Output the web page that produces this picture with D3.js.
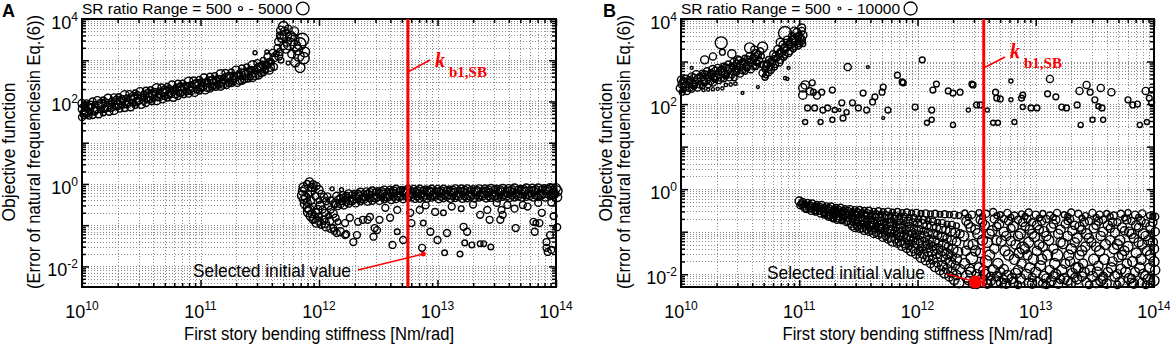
<!DOCTYPE html>
<html>
<head>
<meta charset="utf-8">
<script src="https://cdn.jsdelivr.net/npm/d3@7"></script>
<style>
body { margin: 0; background: #fff; }
svg { display: block; font-family: "Liberation Sans", Arial, sans-serif; }
</style>
</head>
<body>
<svg id="chart" width="1170" height="346"></svg>
<script>
/**
 * Two log-log scatter panels: objective function vs. first story bending stiffness
 * Points are [log10 stiffness, log10 objective, SR ratio]
 */

// Panel A - low stiffness branch (rising band)
const aBandLo = [
    [10.00,1.95,2000],[10.01,1.82,3000],[10.02,1.68,2000],[10.00,1.62,1500],
    [10.04,1.97,1000],[10.05,1.86,2000],[10.04,1.74,3000],[10.06,1.64,1000],
    [10.09,2.00,1500],[10.08,1.88,1000],[10.10,1.77,2000],[10.09,1.67,1500],
    [10.13,2.02,2000],[10.14,1.90,1500],[10.12,1.80,1000],[10.14,1.70,2000],
    [10.18,2.04,1000],[10.17,1.93,2500],[10.19,1.82,1500],[10.18,1.72,1000],
    [10.22,2.08,2000],[10.23,1.95,1000],[10.21,1.85,2000],[10.23,1.75,1500],
    [10.27,2.10,1500],[10.26,1.99,2000],[10.28,1.88,1000],[10.27,1.78,2000],
    [10.31,2.12,1000],[10.32,2.01,1500],[10.30,1.91,2500],[10.32,1.81,1000],
    [10.36,2.15,2500],[10.35,2.04,1000],[10.37,1.94,1500],[10.36,1.84,1500],
    [10.40,2.18,1500],[10.41,2.06,2000],[10.39,1.96,1000],[10.41,1.87,2000],
    [10.45,2.21,1000],[10.44,2.10,1500],[10.46,1.99,2000],[10.45,1.90,1000],
    [10.49,2.24,2000],[10.50,2.12,1000],[10.48,2.02,1500],[10.50,1.93,2000],
    [10.54,2.26,1500],[10.53,2.15,2000],[10.55,2.05,1000],[10.54,1.96,1500],
    [10.58,2.29,1000],[10.59,2.18,1500],[10.57,2.08,2500],[10.59,1.99,1000],
    [10.63,2.32,2500],[10.62,2.20,1000],[10.64,2.11,1500],[10.63,2.02,2000],
    [10.67,2.34,1500],[10.68,2.23,2000],[10.66,2.14,1000],[10.68,2.05,1500],
    [10.72,2.37,1000],[10.71,2.26,1500],[10.73,2.17,2000],[10.72,2.08,1000],
    [10.76,2.40,2000],[10.77,2.29,1000],[10.75,2.20,1500],[10.77,2.10,2000],
    [10.81,2.43,1500],[10.80,2.32,2000],[10.82,2.22,1000],[10.81,2.13,1500],
    [10.85,2.45,1000],[10.86,2.35,1500],[10.84,2.25,2500],[10.86,2.16,1000],
    [10.90,2.48,2500],[10.89,2.38,1000],[10.91,2.28,1500],[10.90,2.19,1500],
    [10.94,2.51,1500],[10.95,2.41,2000],[10.93,2.31,1000],[10.95,2.22,2000],
    [10.99,2.54,1000],[10.98,2.44,1500],[11.00,2.34,2000],[10.99,2.25,1000],
    [11.03,2.57,2000],[11.04,2.47,1000],[11.02,2.37,1500],[11.04,2.28,2000],
    [11.08,2.60,1500],[11.07,2.50,2000],[11.09,2.40,1000],[11.08,2.31,1500],
    [11.12,2.63,1000],[11.13,2.53,1500],[11.11,2.43,2500],[11.13,2.34,1000],
    [11.17,2.66,2500],[11.16,2.56,1000],[11.18,2.46,1500],[11.17,2.37,2000],
    [11.21,2.69,1500],[11.22,2.59,2000],[11.20,2.49,1000],[11.22,2.40,1500],
    [11.26,2.72,1000],[11.25,2.62,1500],[11.27,2.52,2000],[11.26,2.43,1000],
    [11.30,2.76,2000],[11.31,2.65,1000],[11.29,2.56,1500],[11.31,2.46,2000],
    [11.35,2.80,1500],[11.34,2.69,2000],[11.36,2.60,1000],[11.35,2.50,1500],
    [11.39,2.84,1000],[11.40,2.73,1500],[11.38,2.64,2500],[11.40,2.54,1000],
    [11.44,2.88,2500],[11.43,2.78,1000],[11.45,2.68,1500],[11.44,2.58,2000],
    [11.48,2.93,1500],[11.49,2.83,2000],[11.47,2.73,1000],[11.49,2.63,1500],
    [11.53,3.00,1000],[11.52,2.89,1500],[11.54,2.79,2000],[11.53,2.69,1000],
    [11.57,3.08,2000],[11.58,2.97,1000],[11.56,2.87,1500],[11.58,2.76,2000],
    [11.61,3.18,1500],[11.62,3.06,2000],[11.60,2.95,1000],[11.62,2.84,1500],
    [10.02,1.88,1500],[10.02,1.73,2000],[10.07,1.91,2000],[10.07,1.76,1000],
    [10.11,1.93,1000],[10.11,1.78,2000],[10.16,1.96,2000],[10.16,1.81,1500],
    [10.20,1.98,1500],[10.20,1.83,1000],[10.25,2.01,1000],[10.25,1.86,2000],
    [10.29,2.03,2000],[10.29,1.88,1500],[10.34,2.06,1500],[10.34,1.91,1000],
    [10.38,2.09,1000],[10.38,1.94,2000],[10.43,2.12,2000],[10.43,1.97,1500],
    [10.47,2.15,1500],[10.47,2.00,1000],[10.52,2.18,1000],[10.52,2.03,2000],
    [10.56,2.20,2000],[10.56,2.05,1500],[10.61,2.23,1500],[10.61,2.08,1000],
    [10.65,2.26,1000],[10.65,2.11,2000],[10.70,2.28,2000],[10.70,2.13,1500],
    [10.74,2.30,1500],[10.74,2.15,1000],[10.79,2.33,1000],[10.79,2.18,2000],
    [10.83,2.35,2000],[10.83,2.20,1500],[10.88,2.38,1500],[10.88,2.23,1000],
    [10.92,2.41,1000],[10.92,2.26,2000],[10.97,2.44,2000],[10.97,2.29,1500],
    [11.01,2.46,1500],[11.01,2.31,1000],[11.06,2.49,1000],[11.06,2.34,2000],
    [11.10,2.51,2000],[11.10,2.36,1500],[11.15,2.54,1500],[11.15,2.39,1000],
    [11.19,2.57,1000],[11.19,2.42,2000],[11.24,2.60,2000],[11.24,2.45,1500],
    [11.28,2.62,1500],[11.28,2.47,1000],[11.33,2.66,1000],[11.33,2.51,2000],
    [11.37,2.69,2000],[11.37,2.54,1500],[11.42,2.74,1500],[11.42,2.59,1000],
    [11.46,2.78,1000],[11.46,2.63,2000],[11.51,2.84,2000],[11.51,2.69,1500],
    [11.55,2.90,1500],[11.55,2.75,1000],[11.59,2.98,1000],[11.59,2.83,2000]
];

// Panel A - peak cluster near 5e11
const aPeak = [
    [11.65,3.30,1500],[11.66,3.45,2000],[11.67,3.60,1500],[11.68,3.72,2500],
    [11.70,3.82,3000],[11.71,3.70,2000],[11.69,3.55,3000],[11.72,3.60,4000],
    [11.73,3.45,2500],[11.70,3.35,2000],[11.67,3.20,1500],[11.66,3.10,2000],
    [11.64,3.15,1000],[11.72,3.30,3500],[11.75,3.40,4500],[11.76,3.58,3000],
    [11.78,3.50,4500],[11.80,3.35,3500],[11.82,3.25,3000],[11.84,3.40,4500],
    [11.86,3.50,5000],[11.83,3.10,3500],[11.87,3.05,4000],[11.80,2.95,2500],
    [11.84,2.82,3000],[11.74,2.93,500],[11.77,3.15,2000],[11.68,3.00,1000],
    [11.88,3.20,3000],[11.79,3.70,2500],[11.74,3.75,2000],
    [11.46,3.18,500],[11.56,3.20,500]
];

// Panel A - hook after the jump
const aHook = [
    [11.92,0.05,2000],[11.90,0.00,1500],[11.95,-0.02,2000],[11.87,-0.08,2500],
    [11.86,-0.18,2000],[11.86,-0.28,3000],[11.87,-0.38,2000],[11.88,-0.48,2500],
    [11.90,-0.58,2000],[11.91,-0.68,3000],[11.93,-0.78,2500],[11.95,-0.86,2000],
    [11.98,-0.93,3000],[12.02,-0.98,2000],[12.06,-1.03,2500],[12.10,-1.08,2000],
    [12.13,-1.14,1500],[12.18,-1.16,2000],[12.23,-1.22,1500],[11.98,-0.05,1500],
    [12.00,-0.14,2000],[12.02,-0.24,1500],[12.04,-0.33,2000],[12.06,-0.42,1500],
    [12.08,-0.52,2000],[12.10,-0.62,1500],[12.12,-0.72,2000],[12.14,-0.82,1500],
    [12.16,-0.92,1000],[11.91,-0.25,1500],[11.93,-0.40,2000],[11.95,-0.55,1500],
    [11.97,-0.70,2000],[12.00,-0.80,1500],[12.04,-0.88,2000],[11.96,-0.12,1000],
    [12.00,-0.40,1000],[12.03,-0.62,1500],[12.08,-0.78,1000],
    [12.11,-0.12,500],[12.19,-0.14,500],
    [11.88,-0.13,2000],[11.89,-0.33,2500],[11.90,-0.45,2000],[11.92,-0.62,2500],
    [11.94,-0.72,2000],[11.96,-0.82,2500],[12.00,-0.90,2000],[12.05,-0.95,2500],
    [11.94,-0.08,2000],[11.97,-0.30,1500],[12.01,-0.52,2000],[12.05,-0.70,1500],
    [12.09,-0.90,2000],[11.93,-0.18,2500],[11.99,-0.62,2000],[12.07,-0.30,1500],
    [12.10,-0.40,1500],[12.13,-0.50,1500]
];

// Panel A - high stiffness branch (flat band)
const aBandHi = [
    [12.15,-0.30,2000],[12.16,-0.38,1500],[12.14,-0.46,2000],[12.16,-0.54,1500],
    [12.20,-0.27,1500],[12.21,-0.35,2000],[12.19,-0.43,1000],[12.21,-0.51,2000],
    [12.25,-0.24,2000],[12.24,-0.32,1000],[12.26,-0.40,2000],[12.25,-0.48,1500],
    [12.30,-0.22,1000],[12.31,-0.30,2000],[12.29,-0.38,1500],[12.31,-0.46,2000],
    [12.35,-0.20,2000],[12.34,-0.28,1500],[12.36,-0.36,2000],[12.35,-0.44,1000],
    [12.40,-0.18,1500],[12.41,-0.26,2000],[12.39,-0.34,1000],[12.41,-0.42,2000],
    [12.45,-0.17,2000],[12.44,-0.25,1000],[12.46,-0.33,2000],[12.45,-0.41,1500],
    [12.50,-0.16,1000],[12.51,-0.24,2000],[12.49,-0.32,1500],[12.51,-0.40,2000],
    [12.55,-0.15,2000],[12.54,-0.23,1500],[12.56,-0.31,2000],[12.55,-0.39,1000],
    [12.60,-0.14,1500],[12.61,-0.22,2000],[12.59,-0.30,1000],[12.61,-0.38,2000],
    [12.65,-0.13,2000],[12.64,-0.21,1000],[12.66,-0.29,2000],[12.65,-0.37,1500],
    [12.70,-0.13,1000],[12.71,-0.21,2000],[12.69,-0.29,1500],[12.71,-0.36,2000],
    [12.75,-0.13,2000],[12.74,-0.20,1500],[12.76,-0.28,2000],[12.75,-0.36,1000],
    [12.80,-0.12,1500],[12.81,-0.20,2000],[12.79,-0.28,1000],[12.81,-0.35,2000],
    [12.85,-0.13,2000],[12.84,-0.21,1000],[12.86,-0.27,2000],[12.85,-0.36,1500],
    [12.90,-0.12,1000],[12.91,-0.20,2000],[12.89,-0.28,1500],[12.91,-0.35,2000],
    [12.95,-0.13,2000],[12.94,-0.19,1500],[12.96,-0.27,2000],[12.95,-0.35,1000],
    [13.00,-0.12,1500],[13.01,-0.20,2000],[12.99,-0.28,1000],[13.01,-0.36,2000],
    [13.05,-0.13,2000],[13.04,-0.20,1000],[13.06,-0.27,2000],[13.05,-0.35,1500],
    [13.10,-0.12,1000],[13.11,-0.19,2000],[13.09,-0.27,1500],[13.11,-0.35,2000],
    [13.15,-0.12,2000],[13.14,-0.20,1500],[13.16,-0.28,2000],[13.15,-0.36,1000],
    [13.20,-0.11,1500],[13.21,-0.19,2000],[13.19,-0.27,1000],[13.21,-0.35,2000],
    [13.25,-0.12,2000],[13.24,-0.19,1000],[13.26,-0.28,2000],[13.25,-0.35,1500],
    [13.30,-0.11,1000],[13.31,-0.19,2000],[13.29,-0.27,1500],[13.31,-0.34,2000],
    [13.35,-0.12,2000],[13.34,-0.18,1500],[13.36,-0.27,2000],[13.35,-0.35,1000],
    [13.40,-0.11,1500],[13.41,-0.19,2000],[13.39,-0.27,1000],[13.41,-0.34,2000],
    [13.45,-0.11,2000],[13.44,-0.18,1000],[13.46,-0.26,2000],[13.45,-0.34,1500],
    [13.50,-0.10,1000],[13.51,-0.18,2000],[13.49,-0.26,1500],[13.51,-0.34,2000],
    [13.55,-0.11,2000],[13.54,-0.18,1500],[13.56,-0.26,2000],[13.55,-0.33,1000],
    [13.60,-0.10,1500],[13.61,-0.18,2000],[13.59,-0.26,1000],[13.61,-0.33,2000],
    [13.65,-0.10,2000],[13.64,-0.17,1000],[13.66,-0.25,2000],[13.65,-0.33,1500],
    [13.70,-0.10,1000],[13.71,-0.17,2000],[13.69,-0.25,1500],[13.71,-0.32,2000],
    [13.75,-0.10,2000],[13.74,-0.17,1500],[13.76,-0.25,2000],[13.75,-0.33,1000],
    [13.80,-0.09,1500],[13.81,-0.17,2000],[13.79,-0.25,1000],[13.81,-0.32,2000],
    [13.85,-0.10,2000],[13.84,-0.17,1000],[13.86,-0.25,2000],[13.85,-0.32,1500],
    [13.90,-0.09,1000],[13.91,-0.16,2000],[13.89,-0.24,1500],[13.91,-0.32,2000],
    [13.95,-0.09,2000],[13.94,-0.16,1500],[13.96,-0.24,2000],[13.95,-0.31,1000],
    [14.00,-0.10,2500],[14.01,-0.17,3000],[13.99,-0.24,2000],[14.01,-0.32,2500],
    [12.18,-0.34,1500],[12.18,-0.48,2000],[12.23,-0.30,2000],[12.23,-0.44,1500],
    [12.28,-0.27,1500],[12.28,-0.41,2000],[12.33,-0.25,2000],[12.33,-0.39,1000],
    [12.38,-0.23,1000],[12.38,-0.37,2000],[12.43,-0.21,2000],[12.43,-0.35,1500],
    [12.48,-0.20,1500],[12.48,-0.34,2000],[12.53,-0.19,2000],[12.53,-0.33,1000],
    [12.58,-0.18,1000],[12.58,-0.32,2000],[12.63,-0.17,2000],[12.63,-0.31,1500],
    [12.68,-0.17,1500],[12.68,-0.31,2000],[12.73,-0.17,2000],[12.73,-0.31,1000],
    [12.78,-0.16,1000],[12.78,-0.31,2000],[12.83,-0.17,2000],[12.83,-0.30,1500],
    [12.88,-0.16,1500],[12.88,-0.31,2000],[12.93,-0.17,2000],[12.93,-0.31,1000],
    [12.98,-0.16,1000],[12.98,-0.30,2000],[13.03,-0.17,2000],[13.03,-0.31,1500],
    [13.08,-0.16,1500],[13.08,-0.30,2000],[13.13,-0.16,2000],[13.13,-0.31,1000],
    [13.18,-0.15,1000],[13.18,-0.30,2000],[13.23,-0.16,2000],[13.23,-0.30,1500],
    [13.28,-0.15,1500],[13.28,-0.30,2000],[13.33,-0.16,2000],[13.33,-0.30,1000],
    [13.38,-0.15,1000],[13.38,-0.29,2000],[13.43,-0.15,2000],[13.43,-0.30,1500],
    [13.48,-0.14,1500],[13.48,-0.29,2000],[13.53,-0.15,2000],[13.53,-0.29,1000],
    [13.58,-0.14,1000],[13.58,-0.29,2000],[13.63,-0.14,2000],[13.63,-0.28,1500],
    [13.68,-0.14,1500],[13.68,-0.29,2000],[13.73,-0.14,2000],[13.73,-0.28,1000],
    [13.78,-0.13,1000],[13.78,-0.28,2000],[13.83,-0.14,2000],[13.83,-0.28,1500],
    [13.88,-0.13,1500],[13.88,-0.27,2000],[13.93,-0.13,2000],[13.93,-0.27,1000],
    [13.98,-0.13,1500],[13.98,-0.27,2000]
];

// Panel A - loose points under the flat band
const aLoose = [
    [12.29,-1.41,1500],[12.46,-1.28,1500],[12.41,-0.87,1500],[12.51,-0.87,1500],
    [12.60,-0.82,1500],[12.47,-1.07,1500],[12.62,-1.48,1500],[12.66,-1.16,1000],
    [12.71,-1.36,1500],[12.78,-0.95,1500],[12.87,-1.55,1500],[12.88,-0.95,1000],
    [12.94,-1.16,1500],[13.00,-1.36,1500],[13.06,-1.67,1000],[13.08,-1.19,1500],
    [13.19,-1.70,1000],[13.22,-1.04,1500],[13.23,-1.43,1000],[13.25,-1.16,1500],
    [13.29,-1.48,1000],[13.36,-0.75,1500],[13.36,-1.45,1000],[13.39,-1.45,1000],
    [13.44,-0.87,1500],[13.45,-1.53,1000],[13.53,-0.87,1500],[13.55,-0.75,1500],
    [13.66,-1.07,1500],[13.81,-0.92,1500],[13.82,-1.16,1500],[13.83,-0.95,1000],
    [13.86,-0.95,1500],[13.92,-1.41,1500],[13.92,-1.55,1500],[13.93,-1.65,1500],
    [13.96,-1.60,1500],[13.95,-1.24,1500],
    [12.33,-0.92,1500],[12.43,-0.80,1500],[12.26,-0.82,1500],[12.66,-0.63,1500],
    [12.77,-0.70,1500],[12.85,-0.63,1500],[12.98,-0.68,1500],[13.05,-0.70,1000],
    [13.42,-0.63,1500],[13.50,-0.46,1500],[13.54,-0.63,1500],[13.59,-0.51,1500],
    [13.72,-0.51,1500],[13.85,-0.46,1500],[12.22,-0.95,1500],[12.37,-0.87,1500],
    [12.49,-1.12,1500],[12.32,-1.24,1500],[12.12,-1.07,1500],[12.15,-1.19,1500],
    [12.22,-1.24,1500],[12.90,-0.52,1500],[13.12,-0.55,1500],[13.20,-0.60,1000],
    [13.30,-0.50,1500],[13.65,-0.60,1500],[13.76,-0.55,1500],[13.96,-0.45,1500],
    [13.98,-0.78,1500],[14.01,-1.05,1500],[13.88,-0.70,1500],[12.56,-0.58,1500]
];

// Panel B - low stiffness branch (two rising groups)
const bBandLo = [
    [10.00,2.57,3000],[10.01,2.47,4000],[9.99,2.37,3000],[10.01,2.28,2000],
    [10.04,2.61,2000],[10.05,2.51,3000],[10.03,2.41,4000],[10.05,2.31,3000],
    [10.09,2.65,3000],[10.08,2.55,2000],[10.10,2.45,3000],[10.09,2.35,2000],
    [10.13,2.69,4000],[10.14,2.59,3000],[10.12,2.49,2000],[10.14,2.39,3000],
    [10.18,2.73,2000],[10.17,2.63,4000],[10.19,2.53,3000],[10.18,2.43,2000],
    [10.22,2.77,3000],[10.23,2.67,2000],[10.21,2.57,4000],[10.23,2.47,3000],
    [10.27,2.81,4000],[10.26,2.71,3000],[10.28,2.61,2000],[10.27,2.51,3000],
    [10.31,2.85,3000],[10.32,2.75,2000],[10.30,2.65,3000],[10.32,2.55,2000],
    [10.36,2.89,2000],[10.35,2.79,4000],[10.37,2.69,3000],[10.36,2.59,2000],
    [10.40,2.93,3000],[10.41,2.83,3000],[10.39,2.73,2000],[10.41,2.63,3000],
    [10.45,2.98,4000],[10.44,2.87,2000],[10.46,2.77,3000],[10.45,2.62,2000],
    [10.49,3.03,3000],[10.50,2.92,3000],[10.48,2.82,2000],[10.50,2.72,3000],
    [10.54,3.08,2000],[10.53,2.97,4000],[10.55,2.87,3000],[10.54,2.77,2000],
    [10.58,3.13,3000],[10.59,3.02,2000],[10.57,2.92,3000],[10.59,2.82,3000],
    [10.63,3.18,4000],[10.62,3.08,3000],[10.64,2.98,2000],[10.63,2.88,2000],
    [10.67,3.24,3000],[10.68,3.13,2000],[10.66,3.03,3000],[10.68,2.93,2000],
    [10.34,3.44,8500],[10.20,3.04,3800],[10.58,3.32,6000],[10.69,3.34,6000],
    [10.48,3.04,3800],[10.35,3.22,2000],[10.27,3.12,3000],[10.43,3.18,4000],
    [10.62,3.28,3000],
    [10.70,2.93,3000],[10.71,2.83,2000],[10.69,2.73,3000],[10.71,2.63,2000],
    [10.74,3.05,2000],[10.73,2.95,3000],[10.75,2.85,2000],[10.74,2.75,3000],
    [10.78,3.17,3000],[10.79,3.07,2000],[10.77,2.97,3000],[10.79,2.87,2000],
    [10.82,3.28,4000],[10.83,3.18,3000],[10.81,3.08,2000],[10.83,2.98,3000],
    [10.86,3.40,3000],[10.87,3.30,4000],[10.85,3.20,3000],[10.87,3.10,2000],
    [10.90,3.50,4000],[10.91,3.40,3000],[10.89,3.30,2000],[10.91,3.20,3000],
    [10.94,3.60,3000],[10.95,3.50,4000],[10.93,3.40,3000],[10.95,3.30,2000],
    [10.98,3.68,4000],[10.99,3.58,3000],[10.97,3.48,4000],[10.99,3.38,3000],
    [11.02,3.72,3000],[11.03,3.62,4000],[11.01,3.52,3000],[11.03,3.42,2000],
    [10.88,3.67,10000],[11.02,3.79,3800],[11.01,3.51,6000],[10.84,3.45,4000],
    [10.96,3.70,5000],
    [10.02,2.54,3000],[10.02,2.34,2000],[10.07,2.58,2000],[10.07,2.38,3000],
    [10.11,2.62,3000],[10.11,2.42,2000],[10.16,2.66,2000],[10.16,2.46,3000],
    [10.20,2.70,3000],[10.20,2.50,2000],[10.25,2.74,2000],[10.25,2.54,3000],
    [10.29,2.78,3000],[10.29,2.58,2000],[10.34,2.82,2000],[10.34,2.62,3000],
    [10.38,2.86,3000],[10.38,2.66,2000],[10.43,2.90,2000],[10.43,2.70,3000],
    [10.47,2.95,3000],[10.47,2.75,2000],[10.52,3.00,2000],[10.52,2.80,3000],
    [10.56,3.05,3000],[10.56,2.85,2000],[10.61,3.10,2000],[10.61,2.90,3000],
    [10.65,3.16,3000],[10.65,2.96,2000],
    [10.72,2.89,3000],[10.72,2.69,2000],[10.76,3.01,2000],[10.76,2.81,3000],
    [10.80,3.13,3000],[10.80,2.93,2000],[10.84,3.24,2000],[10.84,3.04,3000],
    [10.88,3.35,3000],[10.88,3.15,2000],[10.92,3.45,2000],[10.92,3.25,3000],
    [10.96,3.55,3000],[10.96,3.35,2000],[11.00,3.63,2000],[11.00,3.43,3000],
    [10.19,2.33,600],[10.23,2.34,600],[10.27,2.35,600],[10.31,2.36,600],
    [10.35,2.37,600],[10.38,2.45,700],[10.42,2.46,700],[10.46,2.48,700],
    [10.52,2.26,500],[10.65,2.40,500],[10.90,2.59,500],[10.09,2.85,500],
    [10.88,2.61,600],[10.91,2.85,500]
];

// Panel B - scattered points around 1e2
const bMid = [
    [11.03,2.38,4000],[11.05,2.45,4000],[11.11,2.50,2000],[11.03,2.21,4000],
    [11.12,2.28,2000],[11.19,2.28,2000],[11.28,2.33,2000],[11.07,1.91,2000],
    [11.13,1.91,2000],[11.20,1.86,2000],[11.24,1.91,2000],[11.30,1.86,1500],
    [11.36,2.03,2000],[11.40,1.81,1500],[11.45,2.03,2000],[11.50,1.91,2000],
    [11.54,2.26,2000],[11.57,1.86,2000],[11.62,2.05,2000],[11.64,2.17,2000],
    [11.71,2.40,2000],[11.70,2.28,2000],[11.75,1.86,2000],[11.83,2.68,2000],
    [11.87,2.52,2000],[11.98,1.93,2000],[12.04,3.04,2000],[11.41,2.87,3000],
    [11.58,2.87,500],[11.05,1.58,1500],[11.18,1.58,1500],[11.28,1.63,1500],
    [11.37,1.67,2000],[11.71,1.67,500],[12.13,2.33,2000],[12.12,1.86,2000],
    [12.47,2.45,2000],[12.50,1.98,2000],[12.53,1.98,2000],[12.66,2.28,2000],
    [12.67,2.14,2000],[12.70,2.12,2000],[12.79,2.54,1000],[12.79,2.10,1000],
    [12.88,2.14,2000],[12.89,2.21,2000],[12.89,1.93,1500],[12.96,1.91,2000],
    [13.01,1.91,2000],[13.10,2.24,2000],[13.12,2.59,3000],[13.17,2.17,2000],
    [13.22,1.93,2000],[13.26,1.91,2000],[13.35,1.98,2000],[13.37,2.31,3000],
    [13.43,2.45,3000],[13.46,2.28,2000],[13.50,2.10,2000],[13.53,1.95,1500],
    [13.55,2.38,3000],[13.56,1.91,2000],[13.64,2.28,3000],[13.78,2.10,2000],
    [13.82,1.98,2000],[13.86,2.00,2000],[13.93,2.31,3000],[13.96,2.14,2000],
    [13.98,2.03,2000],[13.98,2.33,2000],[12.59,1.86,1000],[12.43,1.86,1000],
    [11.88,2.50,2000],[12.16,2.47,2000],[12.26,2.31,2000],[12.30,2.26,2000],
    [12.36,2.28,2000],[12.46,2.47,2000],[12.08,1.56,1500],[12.12,1.63,1500],
    [12.30,1.51,1500],[12.64,1.56,1500],[12.68,1.56,1500],[12.82,1.58,1500],
    [13.38,1.51,1500],[13.48,1.63,1500],[13.57,1.63,1500],[13.88,1.51,1500],
    [13.94,1.58,1500],[11.34,1.86,500],[11.09,2.30,3000],[11.15,2.20,3000]
];

// Panel B - diagonal part of the high stiffness branch
const bDiag = [
    [11.00,-0.28,4000],[11.01,-0.38,3000],[11.03,-0.30,3000],[11.04,-0.40,4000],
    [11.07,-0.31,2000],[11.08,-0.41,3000],[11.06,-0.48,2000],
    [11.11,-0.34,3000],[11.12,-0.43,2000],[11.10,-0.51,3000],
    [11.15,-0.36,2000],[11.16,-0.45,3000],[11.14,-0.54,2000],
    [11.19,-0.37,3000],[11.20,-0.47,2000],[11.18,-0.57,3000],
    [11.23,-0.39,2000],[11.24,-0.49,3000],[11.22,-0.58,2000],[11.24,-0.63,2000],
    [11.27,-0.41,3000],[11.28,-0.51,2000],[11.26,-0.60,3000],[11.28,-0.68,2000],
    [11.31,-0.43,2000],[11.32,-0.53,3000],[11.30,-0.63,2000],[11.32,-0.72,3000],
    [11.35,-0.44,3000],[11.36,-0.54,2000],[11.34,-0.64,3000],[11.36,-0.74,2000],
    [11.39,-0.46,2000],[11.40,-0.56,3000],[11.38,-0.66,2000],[11.40,-0.77,3000],
    [11.43,-0.47,3000],[11.44,-0.57,2000],[11.42,-0.68,3000],[11.44,-0.80,4000],
    [11.47,-0.48,2000],[11.48,-0.59,3000],[11.46,-0.70,2000],[11.48,-0.82,3000],[11.47,-0.90,4000],
    [11.51,-0.49,3000],[11.52,-0.60,2000],[11.50,-0.72,3000],[11.52,-0.84,4000],[11.51,-0.93,3000],
    [11.55,-0.50,2000],[11.56,-0.62,3000],[11.54,-0.74,4000],[11.56,-0.86,3000],[11.55,-0.97,4000],
    [11.59,-0.51,3000],[11.60,-0.63,2000],[11.58,-0.76,3000],[11.60,-0.89,4000],[11.59,-1.00,3000],
    [11.63,-0.52,2000],[11.64,-0.65,3000],[11.62,-0.78,4000],[11.64,-0.92,3000],[11.63,-1.04,4000],
    [11.67,-0.52,3000],[11.68,-0.66,4000],[11.66,-0.80,3000],[11.68,-0.94,4000],[11.67,-1.08,3000],
    [11.71,-0.53,2000],[11.72,-0.68,3000],[11.70,-0.82,4000],[11.72,-0.97,3000],[11.71,-1.12,5000],
    [11.75,-0.53,3000],[11.76,-0.69,4000],[11.74,-0.85,3000],[11.76,-1.00,5000],[11.75,-1.17,4000],
    [11.79,-0.54,2000],[11.80,-0.70,3000],[11.78,-0.87,4000],[11.80,-1.04,3000],[11.79,-1.22,6000],
    [11.83,-0.54,3000],[11.84,-0.72,4000],[11.82,-0.90,3000],[11.84,-1.08,5000],[11.83,-1.27,4000],
    [11.87,-0.55,2000],[11.88,-0.74,3000],[11.86,-0.93,5000],[11.88,-1.12,4000],[11.87,-1.32,6000],
    [11.91,-0.55,3000],[11.92,-0.76,4000],[11.90,-0.96,3000],[11.92,-1.17,6000],[11.91,-1.38,5000],
    [11.95,-0.56,2000],[11.96,-0.78,3000],[11.94,-1.00,5000],[11.96,-1.22,4000],[11.95,-1.45,6000],
    [11.99,-0.56,3000],[12.00,-0.80,4000],[11.98,-1.04,3000],[12.00,-1.28,6000],[11.99,-1.52,5000],
    [12.03,-0.57,2000],[12.04,-0.82,5000],[12.02,-1.08,4000],[12.04,-1.34,5000],[12.03,-1.60,6000],
    [12.07,-0.57,3000],[12.08,-0.85,4000],[12.06,-1.12,6000],[12.08,-1.40,4000],[12.07,-1.67,5000],
    [12.11,-0.58,2000],[12.12,-0.88,5000],[12.10,-1.18,4000],[12.12,-1.46,6000],[12.11,-1.75,4000],
    [12.15,-0.58,3000],[12.16,-0.90,4000],[12.14,-1.22,6000],[12.16,-1.52,5000],[12.15,-1.82,6000],
    [12.19,-0.59,2000],[12.20,-0.93,5000],[12.18,-1.26,4000],[12.20,-1.58,6000],[12.19,-1.90,5000],
    [12.23,-0.59,3000],[12.24,-0.96,4000],[12.22,-1.30,6000],[12.24,-1.64,5000],[12.23,-1.97,6000],
    [12.27,-0.60,2000],[12.28,-0.99,6000],[12.26,-1.36,4000],[12.28,-1.72,6000],[12.27,-2.05,5000],
    [12.31,-0.60,3000],[12.32,-1.02,5000],[12.30,-1.42,6000],[12.32,-1.80,4000],[12.31,-2.12,6000],
    [12.35,-0.62,2000],[12.36,-1.05,4000],[12.34,-1.48,6000],[12.36,-1.88,5000],[12.35,-2.20,6000],
    [11.02,-0.34,3000],[11.05,-0.36,2000],[11.05,-0.45,3000],
    [11.09,-0.38,3000],[11.09,-0.47,2000],[11.13,-0.40,2000],[11.13,-0.49,3000],
    [11.17,-0.41,3000],[11.17,-0.52,2000],
    [11.21,-0.43,2000],[11.21,-0.54,3000],[11.21,-0.61,2000],
    [11.25,-0.45,3000],[11.25,-0.56,2000],[11.25,-0.65,3000],
    [11.29,-0.47,2000],[11.29,-0.58,3000],[11.29,-0.70,2000],
    [11.33,-0.48,3000],[11.33,-0.59,2000],[11.33,-0.69,3000],
    [11.37,-0.50,2000],[11.37,-0.60,3000],[11.37,-0.72,2000],
    [11.41,-0.51,3000],[11.41,-0.62,2000],[11.41,-0.75,3000],
    [11.45,-0.53,2000],[11.45,-0.64,3000],[11.45,-0.76,2000],[11.45,-0.86,4000],
    [11.49,-0.54,3000],[11.49,-0.66,2000],[11.49,-0.78,3000],[11.49,-0.88,3000],
    [11.53,-0.55,2000],[11.53,-0.67,3000],[11.53,-0.80,2000],[11.53,-0.91,4000],
    [11.57,-0.56,3000],[11.57,-0.70,2000],[11.57,-0.83,3000],[11.57,-0.95,3000],
    [11.61,-0.58,2000],[11.61,-0.72,3000],[11.61,-0.85,4000],[11.61,-0.98,3000],
    [11.65,-0.59,3000],[11.65,-0.73,2000],[11.65,-0.87,3000],[11.65,-1.01,4000],
    [11.69,-0.60,2000],[11.69,-0.75,3000],[11.69,-0.90,4000],[11.69,-1.04,3000],
    [11.73,-0.61,3000],[11.73,-0.77,2000],[11.73,-0.92,3000],[11.73,-1.09,4000],
    [11.77,-0.62,2000],[11.77,-0.79,3000],[11.77,-0.95,4000],[11.77,-1.12,5000],
    [11.81,-0.63,3000],[11.81,-0.81,2000],[11.81,-0.99,4000],[11.81,-1.17,4000],
    [11.85,-0.64,2000],[11.85,-0.83,3000],[11.85,-1.02,4000],[11.85,-1.22,5000],
    [11.89,-0.65,3000],[11.89,-0.85,3000],[11.89,-1.06,4000],[11.89,-1.27,5000],
    [11.93,-0.66,2000],[11.93,-0.88,4000],[11.93,-1.10,5000],[11.93,-1.32,4000],
    [11.97,-0.68,3000],[11.97,-0.92,3000],[11.97,-1.14,4000],[11.97,-1.38,6000],
    [12.01,-0.70,2000],[12.01,-0.95,4000],[12.01,-1.20,5000],[12.01,-1.45,4000],
    [12.05,-0.72,3000],[12.05,-0.98,3000],[12.05,-1.25,6000],[12.05,-1.52,5000],
    [12.09,-0.74,2000],[12.09,-1.02,4000],[12.09,-1.30,5000],[12.09,-1.58,6000],
    [12.13,-0.76,3000],[12.13,-1.05,5000],[12.13,-1.35,4000],[12.13,-1.65,5000],
    [12.17,-0.78,2000],[12.17,-1.08,4000],[12.17,-1.40,6000],[12.17,-1.72,5000],
    [12.21,-0.80,3000],[12.21,-1.12,5000],[12.21,-1.46,5000],[12.21,-1.80,6000],
    [12.25,-0.82,2000],[12.25,-1.16,4000],[12.25,-1.52,6000],[12.25,-1.88,5000],
    [12.29,-0.84,3000],[12.29,-1.20,5000],[12.29,-1.58,5000],[12.29,-1.95,6000],
    [12.33,-0.86,2000],[12.33,-1.24,4000],[12.33,-1.65,6000],[12.33,-2.02,5000]
];

// Panel B - wide field of the high stiffness branch
const bField = [
    [12.40,-0.56,2000],[12.41,-0.75,4000],[12.39,-1.10,6000],[12.41,-1.45,5000],[12.40,-1.75,6000],[12.42,-2.05,8000],
    [12.46,-0.60,3000],[12.45,-0.90,5000],[12.47,-1.30,6000],[12.46,-1.62,8000],[12.45,-1.95,6000],[12.47,-2.22,5000],
    [12.52,-0.55,2000],[12.53,-0.72,4000],[12.51,-1.05,6000],[12.53,-1.50,5000],[12.52,-1.85,6000],[12.54,-2.15,8000],
    [12.58,-0.58,3000],[12.57,-0.85,5000],[12.59,-1.25,6000],[12.58,-1.70,8000],[12.57,-2.00,6000],[12.59,-2.22,5000],
    [12.64,-0.54,3000],[12.65,-0.70,4000],[12.63,-0.98,6000],[12.65,-1.40,5000],[12.64,-1.90,6000],[12.66,-2.18,6000],
    [12.70,-0.60,2000],[12.69,-0.82,5000],[12.71,-1.22,6000],[12.70,-1.95,5000],[12.71,-2.20,6000],
    [12.76,-0.56,3000],[12.77,-0.75,4000],[12.75,-1.10,5000],[12.77,-1.55,6000],[12.76,-2.05,8000],[12.75,-2.22,5000],
    [12.82,-0.62,3000],[12.81,-0.88,6000],[12.83,-1.30,5000],[12.82,-1.65,6000],[12.83,-1.98,6000],[12.81,-2.18,5000],
    [12.88,-0.58,2000],[12.89,-0.78,4000],[12.87,-1.05,6000],[12.89,-1.38,8000],[12.88,-1.75,5000],[12.87,-2.10,6000],
    [12.94,-0.55,3000],[12.93,-0.70,3000],[12.95,-0.95,5000],[12.94,-1.25,6000],[12.93,-1.55,5000],[12.95,-1.85,6000],[12.94,-2.20,5000],
    [13.00,-0.60,3000],[13.01,-0.85,5000],[12.99,-1.12,6000],[13.01,-1.45,5000],[13.00,-1.95,6000],[13.02,-2.18,5000],
    [13.06,-0.57,2000],[13.05,-0.75,4000],[13.07,-1.00,6000],[13.06,-1.35,5000],[13.05,-1.65,6000],[13.07,-2.05,6000],[13.06,-2.22,4000],
    [13.12,-0.62,3000],[13.13,-0.90,5000],[13.11,-1.20,6000],[13.12,-1.90,5000],[13.13,-2.15,6000],
    [13.18,-0.56,3000],[13.17,-0.72,4000],[13.19,-1.05,5000],[13.18,-1.55,8000],[13.17,-2.00,6000],[13.19,-2.22,5000],
    [13.24,-0.60,2000],[13.25,-0.82,4000],[13.23,-1.28,6000],[13.25,-1.75,5000],[13.24,-2.10,6000],
    [13.30,-0.55,3000],[13.29,-0.70,3000],[13.31,-0.98,5000],[13.30,-1.40,6000],[13.29,-1.70,5000],[13.31,-1.98,6000],[13.30,-2.20,5000],
    [13.36,-0.58,3000],[13.37,-0.88,5000],[13.35,-1.15,6000],[13.37,-1.55,5000],[13.36,-1.85,6000],[13.35,-2.12,5000],
    [13.42,-0.62,2000],[13.41,-0.78,4000],[13.43,-1.05,6000],[13.42,-1.35,5000],[13.41,-1.95,6000],[13.43,-2.20,5000],
    [13.48,-0.56,3000],[13.49,-0.92,5000],[13.47,-1.25,5000],[13.49,-1.65,6000],[13.48,-2.05,6000],
    [13.54,-0.60,3000],[13.53,-0.75,4000],[13.55,-1.10,5000],[13.54,-1.45,6000],[13.53,-1.80,5000],[13.55,-2.15,6000],
    [13.60,-0.57,2000],[13.61,-0.85,5000],[13.59,-1.30,6000],[13.61,-1.95,5000],[13.60,-2.22,5000],
    [13.66,-0.62,3000],[13.65,-0.78,4000],[13.67,-1.02,5000],[13.66,-1.40,6000],[13.65,-1.70,5000],[13.67,-2.05,6000],
    [13.72,-0.58,3000],[13.73,-0.90,5000],[13.71,-1.20,6000],[13.73,-1.55,5000],[13.72,-1.88,6000],[13.71,-2.18,5000],
    [13.78,-0.55,2000],[13.77,-0.72,4000],[13.79,-1.00,5000],[13.78,-1.35,6000],[13.77,-1.75,5000],[13.79,-2.10,6000],
    [13.84,-0.60,3000],[13.85,-0.85,5000],[13.83,-1.15,5000],[13.85,-1.50,6000],[13.84,-1.95,5000],[13.83,-2.22,5000],
    [13.90,-0.57,3000],[13.89,-0.75,4000],[13.91,-1.05,6000],[13.90,-1.30,5000],[13.89,-1.65,6000],[13.91,-2.00,6000],[13.90,-2.20,5000],
    [13.96,-0.62,2000],[13.97,-0.88,5000],[13.95,-1.20,5000],[13.97,-1.55,6000],[13.96,-1.85,5000],[13.95,-2.12,6000],
    [14.01,-0.65,3000],[14.01,-1.00,4000],[14.00,-1.40,5000],[14.01,-1.90,5000],[14.00,-2.15,6000],
    [12.50,-2.25,3000],[12.62,-2.05,4000],[12.73,-2.12,4000],[12.85,-2.25,3000],[12.97,-2.08,4000],
    [13.09,-2.25,3000],[13.21,-2.12,4000],[13.33,-2.08,4000],[13.45,-2.25,3000],[13.57,-2.05,4000],
    [13.69,-2.25,3000],[13.81,-2.10,4000],[13.93,-2.25,3000],
    [12.43,-0.66,2000],[12.55,-0.64,2000],[12.67,-0.62,2000],[12.79,-0.66,2000],[12.91,-0.64,2000],
    [13.03,-0.68,2000],[13.15,-0.66,2000],[13.27,-0.64,2000],[13.39,-0.68,2000],[13.51,-0.66,2000],
    [13.63,-0.64,2000],[13.75,-0.68,2000],[13.87,-0.66,2000],[13.99,-0.64,2000],
    [12.43,-0.82,4000],[12.43,-1.30,5000],[12.44,-1.88,6000],[12.43,-2.15,4000],
    [12.49,-0.95,5000],[12.49,-1.45,6000],[12.50,-2.00,5000],
    [12.55,-0.78,4000],[12.55,-1.20,6000],[12.56,-1.92,6000],[12.55,-2.20,4000],
    [12.61,-1.05,5000],[12.61,-1.55,6000],[12.62,-2.15,5000],
    [12.67,-0.88,4000],[12.67,-1.20,5000],[12.68,-1.75,6000],[12.67,-2.05,5000],
    [12.73,-0.70,3000],[12.73,-1.00,5000],[12.74,-1.45,6000],[12.73,-1.88,5000],
    [12.79,-0.92,4000],[12.79,-1.22,5000],[12.80,-2.10,6000],
    [12.85,-0.72,3000],[12.85,-1.10,5000],[12.86,-1.50,6000],[12.85,-1.90,5000],
    [12.91,-0.88,4000],[12.91,-1.40,5000],[12.92,-2.00,6000],
    [12.97,-0.78,3000],[12.97,-1.05,5000],[12.98,-1.65,6000],[12.97,-2.22,5000],
    [13.03,-0.95,4000],[13.03,-1.30,5000],[13.04,-1.80,6000],
    [13.09,-0.70,3000],[13.09,-1.10,5000],[13.10,-1.55,6000],[13.09,-2.10,5000],
    [13.15,-0.82,4000],[13.15,-1.40,5000],[13.16,-1.75,6000],[13.15,-2.05,5000],
    [13.21,-0.95,5000],[13.21,-1.25,5000],[13.22,-1.90,6000],
    [13.27,-0.75,3000],[13.27,-1.10,5000],[13.28,-1.55,6000],[13.27,-2.15,5000],
    [13.33,-0.85,4000],[13.33,-1.25,5000],[13.34,-1.85,6000],
    [13.39,-0.95,4000],[13.39,-1.45,6000],[13.40,-1.75,5000],[13.39,-2.05,5000],
    [13.45,-0.75,3000],[13.45,-1.15,5000],[13.46,-1.90,6000],
    [13.51,-0.85,4000],[13.51,-1.35,5000],[13.52,-1.95,6000],[13.51,-2.22,4000],
    [13.57,-0.72,3000],[13.57,-1.00,5000],[13.58,-1.65,6000],[13.57,-2.10,5000],
    [13.63,-0.92,4000],[13.63,-1.20,5000],[13.64,-1.85,6000],
    [13.69,-0.78,3000],[13.69,-1.30,6000],[13.70,-1.60,5000],[13.69,-2.00,5000],
    [13.75,-0.98,4000],[13.75,-1.45,5000],[13.76,-1.95,6000],
    [13.81,-0.75,3000],[13.81,-1.05,5000],[13.82,-1.70,6000],[13.81,-2.20,5000],
    [13.87,-0.90,4000],[13.87,-1.25,5000],[13.88,-1.85,6000],
    [13.93,-0.80,3000],[13.93,-1.10,5000],[13.94,-1.45,5000],[13.93,-2.05,6000],
    [13.99,-0.78,4000],[13.99,-1.25,5000],[14.00,-1.70,6000]
];

// Reference stiffness k_b1,SB (log10) and selected initial value [log10 k, log10 f]
const kRefLog = { A: 12.75, B: 12.56 };
const selectedA = [12.88, -1.70];
const selectedB = [12.49, -2.18];

// Axis ticks
const xMajorExp = [10, 11, 12, 13, 14];
const yLabelExp = [-2, 0, 2, 4];
const legendRange = { A: [500, 5000], B: [500, 10000] };

const svg = d3.select('#chart');

function powText(sel, exp) {
    sel.append('tspan').text('10');
    sel.append('tspan')
        .attr('dy', -8)
        .style('font-size', '12px')
        .text(exp);
}

function drawPanel(p) {
    const g = svg.append('g');
    const w = p.right - p.left;
    const h = p.bottom - p.top;

    const x = d3.scaleLog().domain([1e10, 1e14]).range([p.left, p.right]);
    const y = d3.scaleLog().domain([Math.pow(10, p.yMinExp), 1e4]).range([p.bottom, p.top]);
    const r = d3.scaleSqrt().domain([0, p.srMax]).range([0, p.rMax]);

    // Tick values: every k*10^n inside the domain
    const xMajor = xMajorExp.map(e => Math.pow(10, e));
    const xMinor = [];
    for (let e = 10; e < 14; e++) {
        for (let k = 2; k <= 9; k++) xMinor.push(k * Math.pow(10, e));
    }
    const yMajor = [];
    const yMinor = [];
    const yLo = Math.pow(10, p.yMinExp);
    for (let e = Math.floor(p.yMinExp); e <= 4; e++) {
        const v = Math.pow(10, e);
        if (v >= yLo * 0.999) yMajor.push(v);
        if (e < 4) {
            for (let k = 2; k <= 9; k++) {
                if (k * v >= yLo) yMinor.push(k * v);
            }
        }
    }

    // Gitter (gepunktet)
    const grid = g.append('g').attr('class', 'grid');
    grid.append('g')
        .attr('transform', `translate(0,${p.bottom})`)
        .call(d3.axisBottom(x).tickValues(xMajor.concat(xMinor)).tickSize(-h).tickFormat(''));
    grid.append('g')
        .attr('transform', `translate(${p.left},0)`)
        .call(d3.axisLeft(y).tickValues(yMajor.concat(yMinor)).tickSize(-w).tickFormat(''));
    grid.selectAll('.domain').remove();
    grid.selectAll('line')
        .attr('stroke', '#8c8c8c')
        .attr('stroke-width', 1)
        .attr('stroke-dasharray', '1,2')
        .attr('shape-rendering', 'crispEdges');

    // Punkte
    const pts = [].concat(...p.sets);
    g.append('g')
        .selectAll('circle')
        .data(pts)
        .enter()
        .append('circle')
        .attr('cx', d => x(Math.pow(10, d[0])))
        .attr('cy', d => y(Math.pow(10, d[1])))
        .attr('r', d => r(d[2]))
        .attr('fill', 'none')
        .attr('stroke', '#000')
        .attr('stroke-width', 1.4);

    // Rahmen
    g.append('rect')
        .attr('x', p.left)
        .attr('y', p.top)
        .attr('width', w)
        .attr('height', h)
        .attr('fill', 'none')
        .attr('stroke', '#000')
        .attr('stroke-width', 2);

    // Ticks nach innen auf allen vier Seiten
    const tickSets = [
        [d3.axisBottom(x), `translate(0,${p.bottom})`, xMajor, xMinor],
        [d3.axisTop(x), `translate(0,${p.top})`, xMajor, xMinor],
        [d3.axisLeft(y), `translate(${p.left},0)`, yMajor, yMinor],
        [d3.axisRight(y), `translate(${p.right},0)`, yMajor, yMinor]
    ];
    tickSets.forEach(([ax, tr, maj, min]) => {
        [[maj, 7], [min, 4]].forEach(([vals, len]) => {
            const t = g.append('g')
                .attr('transform', tr)
                .call(ax.tickValues(vals).tickSize(-len).tickFormat(''));
            t.select('.domain').remove();
            t.selectAll('line').attr('stroke', '#000').attr('stroke-width', 1.5);
        });
    });

    // Achsenbeschriftung
    xMajorExp.forEach(e => {
        const t = g.append('text')
            .attr('x', x(Math.pow(10, e)))
            .attr('y', p.bottom + 31)
            .attr('text-anchor', 'middle')
            .style('font-size', '18px');
        powText(t, e);
    });
    yLabelExp.forEach(e => {
        const t = g.append('text')
            .attr('x', p.left - 4)
            .attr('y', y(Math.pow(10, e)) + 10)
            .attr('text-anchor', 'end')
            .style('font-size', '18px');
        powText(t, e);
    });

    g.append('text')
        .attr('x', (p.left + p.right) / 2 - 135)
        .attr('y', 340)
        .attr('textLength', 270)
        .attr('lengthAdjust', 'spacingAndGlyphs')
        .style('font-size', '18px')
        .text('First story bending stiffness [Nm/rad]');

    const yMid = (p.top + p.bottom) / 2 - 1;
    g.append('text')
        .attr('transform', `translate(${p.yTitleX[0]},${yMid}) rotate(-90)`)
        .attr('text-anchor', 'middle')
        .style('font-size', '17.5px')
        .text('Objective function');
    g.append('text')
        .attr('transform', `translate(${p.yTitleX[1]},${yMid + 137}) rotate(-90)`)
        .attr('textLength', 274)
        .attr('lengthAdjust', 'spacingAndGlyphs')
        .style('font-size', '17.5px')
        .text('(Error of natural frequenciesin Eq.(6))');

    // Panel-Buchstabe
    g.append('text')
        .attr('x', p.letterX)
        .attr('y', 17)
        .style('font-size', '18px')
        .style('font-weight', 'bold')
        .text(p.letter);

    // Titel mit Groessenlegende, Positionen hintereinander
    const [srLo, srHi] = legendRange[p.letter];
    const t1 = g.append('text')
        .attr('x', p.left)
        .attr('y', 14)
        .style('font-size', '15.5px')
        .text('SR ratio Range = ' + srLo);
    const smallX = p.left + t1.node().getComputedTextLength() + 9;
    g.append('circle')
        .attr('cx', smallX).attr('cy', 8.5)
        .attr('r', r(srLo))
        .attr('fill', 'none').attr('stroke', '#000').attr('stroke-width', 1.1);
    const t2 = g.append('text')
        .attr('x', smallX + 8)
        .attr('y', 14)
        .style('font-size', '15.5px')
        .text('- ' + srHi);
    const bigX = smallX + 8 + t2.node().getComputedTextLength() + 4 + r(srHi);
    g.append('circle')
        .attr('cx', bigX).attr('cy', 8.5)
        .attr('r', r(srHi))
        .attr('fill', 'none').attr('stroke', '#000').attr('stroke-width', 1.3);

    // Rote Referenzlinie k_b1,SB
    const kx = x(Math.pow(10, kRefLog[p.letter]));
    g.append('line')
        .attr('x1', kx).attr('x2', kx)
        .attr('y1', p.top).attr('y2', p.bottom)
        .attr('stroke', '#ff0000')
        .attr('stroke-width', 3);
    g.append('line')
        .attr('x1', kx).attr('y1', p.kLabel.y0)
        .attr('x2', p.kLabel.x1).attr('y2', p.kLabel.y1)
        .attr('stroke', '#ff0000')
        .attr('stroke-width', 1.5);
    const kt = g.append('text')
        .attr('x', p.kLabel.tx)
        .attr('y', p.kLabel.ty)
        .style('font-family', '"Liberation Serif", "Times New Roman", serif')
        .style('font-weight', 'bold')
        .attr('fill', '#ff0000');
    kt.append('tspan')
        .style('font-style', 'italic')
        .style('font-size', '20px')
        .text('k');
    kt.append('tspan')
        .attr('dx', 4)
        .attr('dy', 10)
        .style('font-size', '15px')
        .text('b1,SB');

    // Ausgewaehlter Startwert
    const sx = x(Math.pow(10, p.selected[0]));
    const sy = y(Math.pow(10, p.selected[1]));
    g.append('line')
        .attr('x1', p.selLabel.lx).attr('y1', p.selLabel.ly)
        .attr('x2', sx).attr('y2', sy)
        .attr('stroke', '#ff0000')
        .attr('stroke-width', 1.5);
    g.append('circle')
        .attr('cx', sx).attr('cy', sy)
        .attr('r', p.selR)
        .attr('fill', '#ff0000');
    g.append('text')
        .attr('x', p.selLabel.tx)
        .attr('y', p.selLabel.ty)
        .attr('textLength', 158)
        .attr('lengthAdjust', 'spacingAndGlyphs')
        .style('font-size', '19px')
        .text('Selected initial value');
}

drawPanel({
    letter: 'A', letterX: 2,
    left: 82, right: 556, top: 19, bottom: 287,
    yMinExp: -2.5, srMax: 5000, rMax: 6.3,
    sets: [aBandLo, aPeak, aHook, aBandHi, aLoose],
    yTitleX: [15, 40],
    kLabel: { y0: 72, x1: 430, y1: 60, tx: 435, ty: 67 },
    selected: selectedA, selR: 2.5,
    selLabel: { lx: 358, ly: 270, tx: 193, ty: 277 }
});

drawPanel({
    letter: 'B', letterX: 603,
    left: 681, right: 1154, top: 19, bottom: 287,
    yMinExp: -2.3, srMax: 10000, rMax: 6.5,
    sets: [bBandLo, bMid, bDiag, bField],
    yTitleX: [612, 630],
    kLabel: { y0: 68, x1: 1005, y1: 57, tx: 1010, ty: 58 },
    selected: selectedB, selR: 6.5,
    selLabel: { lx: 947, ly: 274, tx: 767, ty: 279 }
});
</script>
</body>
</html>
